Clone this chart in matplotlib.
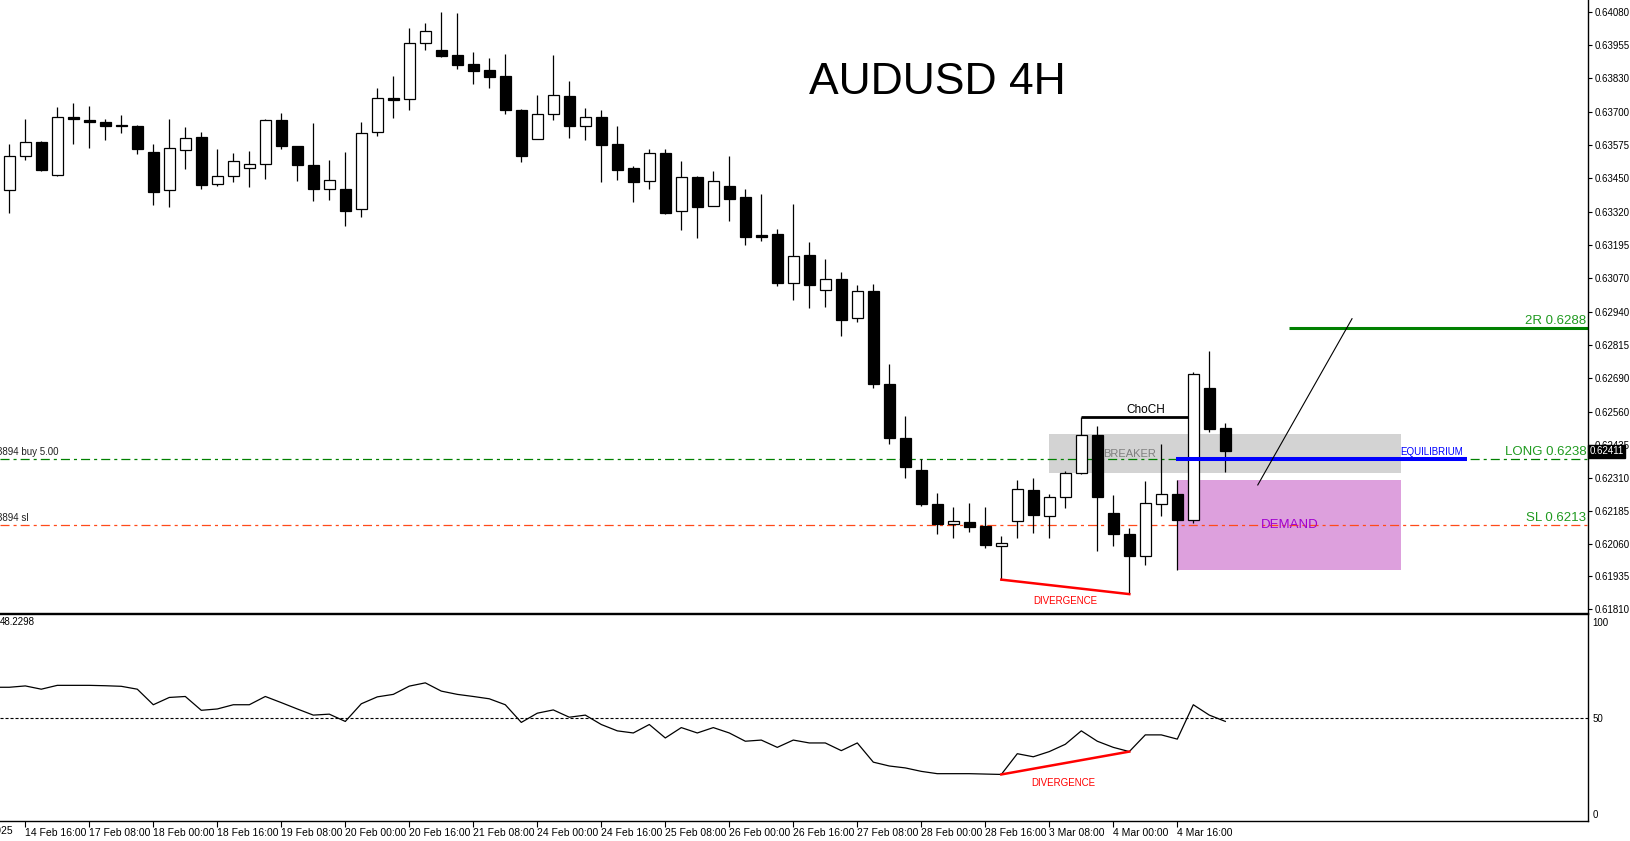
#!/usr/bin/env python
# -*- coding: utf-8 -*-
import numpy as np
import matplotlib
matplotlib.use('Agg')
import matplotlib.pyplot as plt
from matplotlib.transforms import blended_transform_factory

## velas AUDUSD 4H
apertura = [0.63404, 0.63533, 0.63586, 0.63461, 0.63681, 0.63670, 0.63662, 0.63653, 0.63648, 0.63549,
            0.63404, 0.63558, 0.63606, 0.63426, 0.63457, 0.63487, 0.63502, 0.63670, 0.63571, 0.63499,
            0.63407, 0.63407, 0.63331, 0.63624, 0.63754, 0.63749, 0.63962, 0.63936, 0.63917, 0.63882,
            0.63860, 0.63837, 0.63708, 0.63597, 0.63692, 0.63761, 0.63649, 0.63682, 0.63580, 0.63487,
            0.63440, 0.63544, 0.63324, 0.63453, 0.63343, 0.63419, 0.63378, 0.63233, 0.63236, 0.63049,
            0.63157, 0.63026, 0.63067, 0.62918, 0.63021, 0.62668, 0.62462, 0.62341, 0.62212, 0.62134,
            0.62143, 0.62128, 0.62051, 0.62146, 0.62264, 0.62165, 0.62237, 0.62327, 0.62473, 0.62176,
            0.62098, 0.62011, 0.62210, 0.62247, 0.62148, 0.62651, 0.62499]
maximo = [0.63580, 0.63673, 0.63592, 0.63719, 0.63734, 0.63724, 0.63673, 0.63690, 0.63653, 0.63580,
          0.63673, 0.63645, 0.63625, 0.63561, 0.63544, 0.63553, 0.63675, 0.63696, 0.63571, 0.63658,
          0.63518, 0.63548, 0.63662, 0.63791, 0.63837, 0.64019, 0.64039, 0.64081, 0.64077, 0.63929,
          0.63905, 0.63922, 0.63711, 0.63765, 0.63918, 0.63819, 0.63716, 0.63709, 0.63648, 0.63495,
          0.63561, 0.63561, 0.63514, 0.63457, 0.63477, 0.63534, 0.63409, 0.63390, 0.63257, 0.63352,
          0.63207, 0.63143, 0.63093, 0.63044, 0.63048, 0.62744, 0.62546, 0.62383, 0.62253, 0.62200,
          0.62215, 0.62200, 0.62090, 0.62303, 0.62308, 0.62248, 0.62337, 0.62541, 0.62507, 0.62245,
          0.62119, 0.62299, 0.62438, 0.62303, 0.62714, 0.62793, 0.62518]
minimo = [0.63316, 0.63520, 0.63476, 0.63457, 0.63581, 0.63565, 0.63596, 0.63622, 0.63540, 0.63348,
          0.63341, 0.63486, 0.63407, 0.63421, 0.63436, 0.63415, 0.63448, 0.63559, 0.63439, 0.63364,
          0.63368, 0.63269, 0.63303, 0.63609, 0.63677, 0.63710, 0.63938, 0.63909, 0.63866, 0.63809,
          0.63793, 0.63695, 0.63512, 0.63597, 0.63672, 0.63603, 0.63596, 0.63436, 0.63444, 0.63360,
          0.63410, 0.63315, 0.63254, 0.63220, 0.63343, 0.63288, 0.63196, 0.63212, 0.63041, 0.62988,
          0.62954, 0.62961, 0.62850, 0.62903, 0.62650, 0.62437, 0.62311, 0.62203, 0.62095, 0.62080,
          0.62106, 0.62045, 0.61923, 0.62080, 0.62099, 0.62080, 0.62197, 0.62323, 0.62030, 0.62049,
          0.61868, 0.61977, 0.62165, 0.61961, 0.62138, 0.62485, 0.62334]
cierre = [0.63533, 0.63586, 0.63482, 0.63681, 0.63673, 0.63664, 0.63649, 0.63647, 0.63562, 0.63398,
          0.63563, 0.63601, 0.63425, 0.63457, 0.63514, 0.63502, 0.63670, 0.63571, 0.63499, 0.63410,
          0.63442, 0.63326, 0.63620, 0.63753, 0.63748, 0.63962, 0.64008, 0.63915, 0.63881, 0.63858,
          0.63835, 0.63710, 0.63535, 0.63692, 0.63765, 0.63649, 0.63681, 0.63577, 0.63482, 0.63436,
          0.63544, 0.63318, 0.63453, 0.63341, 0.63438, 0.63372, 0.63227, 0.63227, 0.63049, 0.63153,
          0.63045, 0.63065, 0.62911, 0.63021, 0.62666, 0.62460, 0.62353, 0.62209, 0.62133, 0.62147,
          0.62125, 0.62053, 0.62062, 0.62267, 0.62169, 0.62237, 0.62328, 0.62473, 0.62239, 0.62095,
          0.62011, 0.62214, 0.62247, 0.62150, 0.62704, 0.62494, 0.62411]

## oscilador de la ventana inferior
indicador = [66, 66.7, 65, 67, 67, 67, 66.8, 66.5, 65, 56.9,
             60.7, 61.2, 54, 54.7, 56.9, 56.9, 61.2, 58, 54.7, 51.5,
             52, 48.2, 57.4, 61, 62.3, 66.6, 68.3, 64, 62.3, 61.2,
             60, 56.9, 47.7, 52.5, 54.2, 50.4, 51.5, 46.6, 43.3, 42.2,
             46.6, 39.6, 45, 42.2, 45, 42.2, 37.9, 38.5, 34.7, 38.5,
             37, 37, 33, 37, 27, 25, 24, 22.2, 21, 21,
             21, 20.8, 20.6, 31.4, 29.8, 32.5, 36.3, 43.3, 37.9, 34.7,
             32.5, 41.2, 41.2, 39, 56.9, 51.5, 48.2298]

## eje de tiempo
indicesFecha = [1, 5, 9, 13, 17, 21, 25, 29, 33, 37, 41, 45, 49, 53, 57, 61, 65, 69, 73]
etiquetasFecha = ['14 Feb 16:00', '17 Feb 08:00', '18 Feb 00:00', '18 Feb 16:00', '19 Feb 08:00',
                  '20 Feb 00:00', '20 Feb 16:00', '21 Feb 08:00', '24 Feb 00:00', '24 Feb 16:00',
                  '25 Feb 08:00', '26 Feb 00:00', '26 Feb 16:00', '27 Feb 08:00', '28 Feb 00:00',
                  '28 Feb 16:00', '3 Mar 08:00', '4 Mar 00:00', '4 Mar 16:00']

## eje de precios
ticksPrecio = [0.64080, 0.63955, 0.63830, 0.63700, 0.63575, 0.63450, 0.63320, 0.63195, 0.63070,
               0.62940, 0.62815, 0.62690, 0.62560, 0.62435, 0.62310, 0.62185, 0.62060, 0.61935, 0.61810]

## niveles de la operacion
nivel2R = 0.6288
nivelLong = 0.6238
nivelSL = 0.6213
nivelEquilibrio = 0.62381
breakerAlto, breakerBajo = 0.62478, 0.62330
precioActual = 0.62411

plt.rcParams['font.family'] = ['Liberation Sans', 'DejaVu Sans']
plt.rcParams['lines.scale_dashes'] = False

W, H = 1630, 841
fig = plt.figure(figsize=(W / 100, H / 100), dpi=100)
ax = fig.add_axes([0, (H - 612.7) / H, 1588 / W, 612.7 / H])
axInd = fig.add_axes([0, (H - 820.7) / H, 1588 / W, (820.7 - 614.3) / H])

xIzq, xDer = -9.3 / 16, (1588 - 9.3) / 16
verde = '#008000'
naranja = '#ff4a1a'

def dibujarVelas(ax):
	o = np.array(apertura)
	h = np.array(maximo)
	l = np.array(minimo)
	c = np.array(cierre)
	x = np.arange(len(o))
	sube = c >= o
	ax.vlines(x, l, h, color='black', lw=0.9, zorder=3)
	ax.bar(x[sube], np.maximum((c - o)[sube], 0.00002), bottom=o[sube], width=0.66,
	       color='white', edgecolor='black', lw=0.9, zorder=4)
	ax.bar(x[~sube], np.maximum((o - c)[~sube], 0.00002), bottom=c[~sube], width=0.66,
	       color='black', edgecolor='black', lw=0.9, zorder=4)

def dibujarPanelPrincipal(ax):
	ax.set_xlim(xIzq, xDer)
	ax.set_ylim(0.617973, 0.641267)
	for s in ['top', 'left']:
		ax.spines[s].set_visible(False)
	ax.spines['bottom'].set_linewidth(1.0)
	ax.spines['right'].set_linewidth(1.0)
	ax.set_xticks([])
	ax.yaxis.tick_right()
	ax.set_yticks(ticksPrecio)
	ax.set_yticklabels(['%.5f' % t for t in ticksPrecio])
	ax.tick_params(axis='y', direction='out', length=3, width=0.8, labelsize=7, pad=2)

	## zonas
	ax.fill_between([65, 87], breakerBajo, breakerAlto, color='#d3d3d3', lw=0, zorder=1)
	ax.fill_between([73, 87], minimo[73], maximo[73], color='#dda0dd', lw=0, zorder=1)

	## lineas de la orden
	ax.axhline(nivelLong, color=verde, lw=0.9, dashes=(6.5, 2.9, 2.2, 2.9), zorder=2)
	ax.axhline(nivelSL, color=naranja, lw=0.9, dashes=(6.5, 2.9, 2.2, 2.9), zorder=2)
	ax.hlines(nivel2R, 80, xDer, color=verde, lw=2.2, zorder=2)

	dibujarVelas(ax)

	ax.hlines(nivelEquilibrio, 72.9, 91.1, color='#0000ff', lw=2.9, zorder=5)
	ax.hlines(maximo[67], 67, 73.67, color='black', lw=2.0, zorder=5)
	ax.plot([62, 70], [minimo[62], minimo[70]], color='red', lw=1.8, zorder=5)
	ax.plot([78.03, 83.92], [0.62283, 0.62915], color='black', lw=0.8, zorder=5)

	ax.text(71, 0.62569, 'ChoCH', fontsize=8.5, ha='center', va='center', zorder=6)
	ax.text(70, 0.62402, 'BREAKER', fontsize=8, color='#808080', ha='center', va='center', zorder=6)
	ax.text(80, 0.62132, 'DEMAND', fontsize=9.5, color='#a000d0', ha='center', va='center', zorder=6)
	ax.text(88.9, 0.62408, 'EQUILIBRIUM', fontsize=7, color='#0000ff', ha='center', va='center', zorder=6)
	ax.text(66, 0.61841, 'DIVERGENCE', fontsize=7, color='red', ha='center', va='center', zorder=6)

	mezcla = blended_transform_factory(ax.transAxes, ax.transData)
	for nivel, texto in [(nivel2R, '2R 0.6288'), (nivelLong, 'LONG 0.6238'), (nivelSL, 'SL 0.6213')]:
		ax.annotate(texto, (0.999, nivel), xycoords=mezcla, xytext=(0, 1), textcoords='offset points',
		            ha='right', va='bottom', fontsize=9.5, color='#1f9a1f', zorder=6)
	ax.annotate('3894 buy 5.00', (0.0, nivelLong), xycoords=mezcla, xytext=(-2, 1.5),
	            textcoords='offset points', ha='left', va='bottom', fontsize=7, color='#202020')
	ax.annotate('3894 sl', (0.0, nivelSL), xycoords=mezcla, xytext=(-2, 1.5),
	            textcoords='offset points', ha='left', va='bottom', fontsize=7, color='#202020')

	ax.text(1.0008, precioActual, '%.5f' % precioActual, transform=mezcla, fontsize=7, color='white',
	        ha='left', va='center', zorder=10, clip_on=False,
	        bbox=dict(boxstyle='square,pad=0.18', fc='black', ec='black'))

	ax.text(0.590, 0.8646, 'AUDUSD 4H', transform=ax.transAxes, fontsize=32, ha='center', va='center')

def dibujarIndicador(axInd):
	axInd.set_xlim(xIzq, xDer)
	axInd.set_ylim(-3.49, 104.0)
	axInd.spines['left'].set_visible(False)
	for s in ['top', 'bottom', 'right']:
		axInd.spines[s].set_linewidth(1.0)
	x = np.arange(len(indicador))
	xs = np.concatenate([[xIzq], x])
	ys = np.concatenate([[indicador[0]], indicador])
	axInd.plot(xs, ys, color='black', lw=0.9)
	axInd.axhline(50, color='black', lw=0.8, dashes=(2.2, 1.4))
	axInd.plot([62, 70], [indicador[62], indicador[70]], color='red', lw=1.8)
	axInd.text(65.9, 16.3, 'DIVERGENCE', fontsize=7, color='red', ha='center', va='center')
	axInd.text(0.0, 0.985, '%.4f' % indicador[-1], transform=axInd.transAxes, fontsize=7,
	           ha='left', va='top')

	axInd.yaxis.tick_right()
	axInd.set_yticks([0, 50, 100])
	axInd.set_yticklabels(['0', '50', '100'])
	axInd.tick_params(axis='y', length=0, labelsize=7, pad=3)

	axInd.set_xticks(indicesFecha)
	axInd.set_xticklabels(etiquetasFecha, ha='left')
	axInd.tick_params(axis='x', direction='out', length=4, width=0.8, labelsize=7.5, pad=1.5)
	fig.text(12.5 / W, (H - 826.5) / H, '14 Feb 2025', fontsize=7.5, ha='right', va='top')

dibujarPanelPrincipal(ax)
dibujarIndicador(axInd)

fig.savefig('out.png', dpi=100)
